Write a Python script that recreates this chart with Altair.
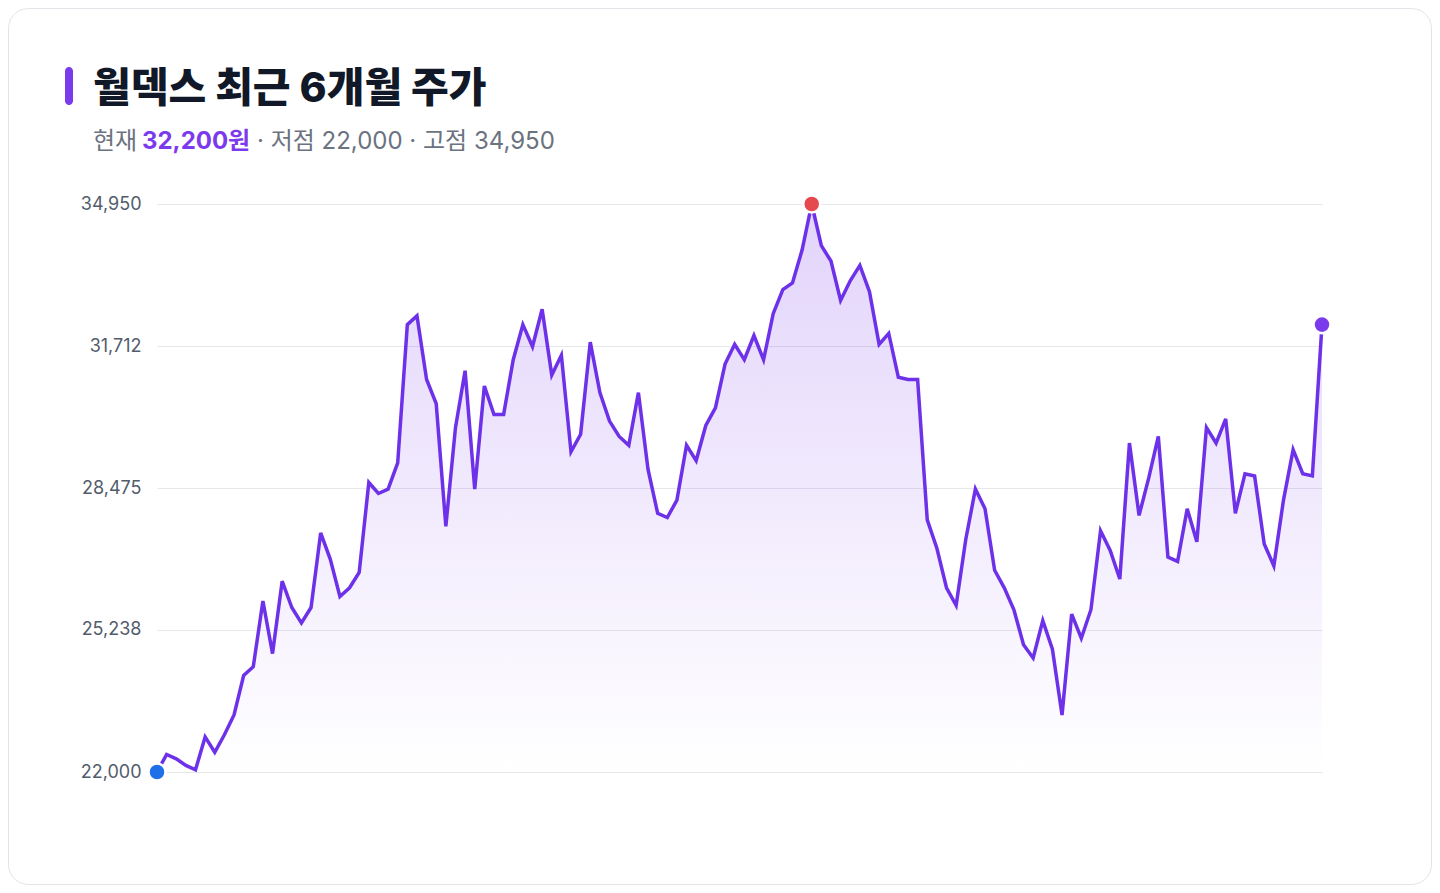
import altair as alt
import pandas as pd

# closing prices, last ~6 months
prices = [
    22000, 22400, 22300, 22150, 22050, 22800, 22450, 22850, 23300, 24200,
    24400, 25900, 24700, 26350, 25750, 25400, 25750, 27450, 26850, 26000,
    26200, 26550, 28600, 28350, 28450, 29050, 32200, 32400, 30950, 30400,
    27600, 29850, 31150, 28450, 30800, 30150, 30150, 31400, 32200, 31700,
    32550, 31050, 31500, 29300, 29700, 31800, 30650, 30000, 29650, 29450,
    30650, 28900, 27900, 27800, 28200, 29450, 29100, 29900, 30300, 31300,
    31750, 31400, 31950, 31400, 32450, 33000, 33150, 33900, 34950, 34000,
    33650, 32750, 33200, 33550, 32950, 31750, 32000, 31000, 30950, 30950,
    27750, 27100, 26200, 25800, 27300, 28450, 28000, 26600, 26200, 25700,
    24900, 24600, 25450, 24800, 23300, 25600, 25050, 25700, 27500, 27050,
    26400, 29500, 27850, 28700, 29650, 26900, 26800, 28000, 27250, 29850,
    29500, 30050, 27900, 28800, 28750, 27200, 26700, 28200, 29350, 28800,
    28750, 32200,
]
y_ticks = [22000, 25238, 28475, 31712, 34950]

title_text = "월덱스 최근 6개월 주가"
sub_now_label = "현재"
sub_now_value = "32,200원"
sub_rest = "· 저점 22,000 · 고점 34,950"

PURPLE = "#7c3aed"
FONT = "Inter, 'Noto Sans CJK KR', sans-serif"

W, H = 1165, 568
PAD = {"left": 149, "top": 196, "right": 110, "bottom": 113}
LOW, HIGH = 22000, 34950

df = pd.DataFrame({"i": range(len(prices)), "price": prices})

lo = df["price"].idxmin()
hi = df["price"].idxmax()
last = len(df) - 1
marks = pd.DataFrame({
    "i": [lo, hi, last],
    "price": [prices[lo], prices[hi], prices[last]],
    "kind": ["low", "high", "now"],
})

yscale = alt.Scale(domain=[LOW, HIGH], nice=False, zero=False)
x = alt.X("i:Q", axis=None, scale=alt.Scale(domain=[0, last], nice=False))
y = alt.Y(
    "price:Q",
    scale=yscale,
    axis=alt.Axis(
        values=y_ticks, format=",d", title=None, domain=False, ticks=False,
        labelPadding=16, labelFontSize=18, labelColor="#525c6b", labelFont=FONT,
        gridColor="#e5e7eb", gridWidth=1,
    ),
)

one = pd.DataFrame({"a": [0]})

# card outline (stroke only so the grid stays visible)
card = alt.Chart(one).mark_rect(
    cornerRadius=20, filled=False, stroke="#e2e4e9", strokeWidth=1
).encode(
    x=alt.value(-148.5), x2=alt.value(W + PAD["right"] - 0.5),
    y=alt.value(-195.5), y2=alt.value(H + PAD["bottom"] - 0.5),
)

bar = alt.Chart(one).mark_rect(cornerRadius=4, color=PURPLE).encode(
    x=alt.value(-92), x2=alt.value(-84), y=alt.value(-137), y2=alt.value(-99)
)

title = alt.Chart(one).mark_text(
    text=title_text, align="left", baseline="alphabetic", font=FONT,
    fontSize=41, fontWeight=800, color="#111827",
).encode(x=alt.value(-64), y=alt.value(-102))

sub1 = alt.Chart(one).mark_text(
    text=sub_now_label, align="left", baseline="alphabetic", font=FONT,
    fontSize=24, color="#6b7280",
).encode(x=alt.value(-64), y=alt.value(-55))

sub2 = alt.Chart(one).mark_text(
    text=sub_now_value, align="left", baseline="alphabetic", font=FONT,
    fontSize=24, fontWeight="bold", color=PURPLE,
).encode(x=alt.value(-15), y=alt.value(-55))

sub3 = alt.Chart(one).mark_text(
    text=sub_rest, align="left", baseline="alphabetic", font=FONT,
    fontSize=24, color="#6b7280",
).encode(x=alt.value(100), y=alt.value(-55))

area = alt.Chart(df).mark_area(
    color=alt.Gradient(
        gradient="linear", x1=0, y1=0, x2=0, y2=1,
        stops=[
            alt.GradientStop(color="rgba(124,58,237,0.22)", offset=0),
            alt.GradientStop(color="rgba(124,58,237,0.0)", offset=1),
        ],
    )
).encode(x=x, y=alt.Y("price:Q", scale=yscale), y2=alt.datum(LOW))

line = alt.Chart(df).mark_line(
    color="#6d31e9", strokeWidth=3.5, strokeJoin="miter"
).encode(x=x, y=y)

dots = alt.Chart(marks).mark_point(
    filled=True, size=290, opacity=1, stroke="white", strokeWidth=2.5
).encode(
    x=x,
    y=alt.Y("price:Q"),
    color=alt.Color(
        "kind:N", legend=None,
        scale=alt.Scale(domain=["low", "high", "now"], range=["#1f6fe8", "#e5484d", PURPLE]),
    ),
)

chart = alt.layer(card, bar, title, sub1, sub2, sub3, area, line, dots).properties(
    width=W, height=H, padding=PAD, autosize=alt.AutoSizeParams(type="none"),
    background="white",
).configure_view(stroke=None)

chart.save("out.html", embed_options={"renderer": "svg", "actions": False})
